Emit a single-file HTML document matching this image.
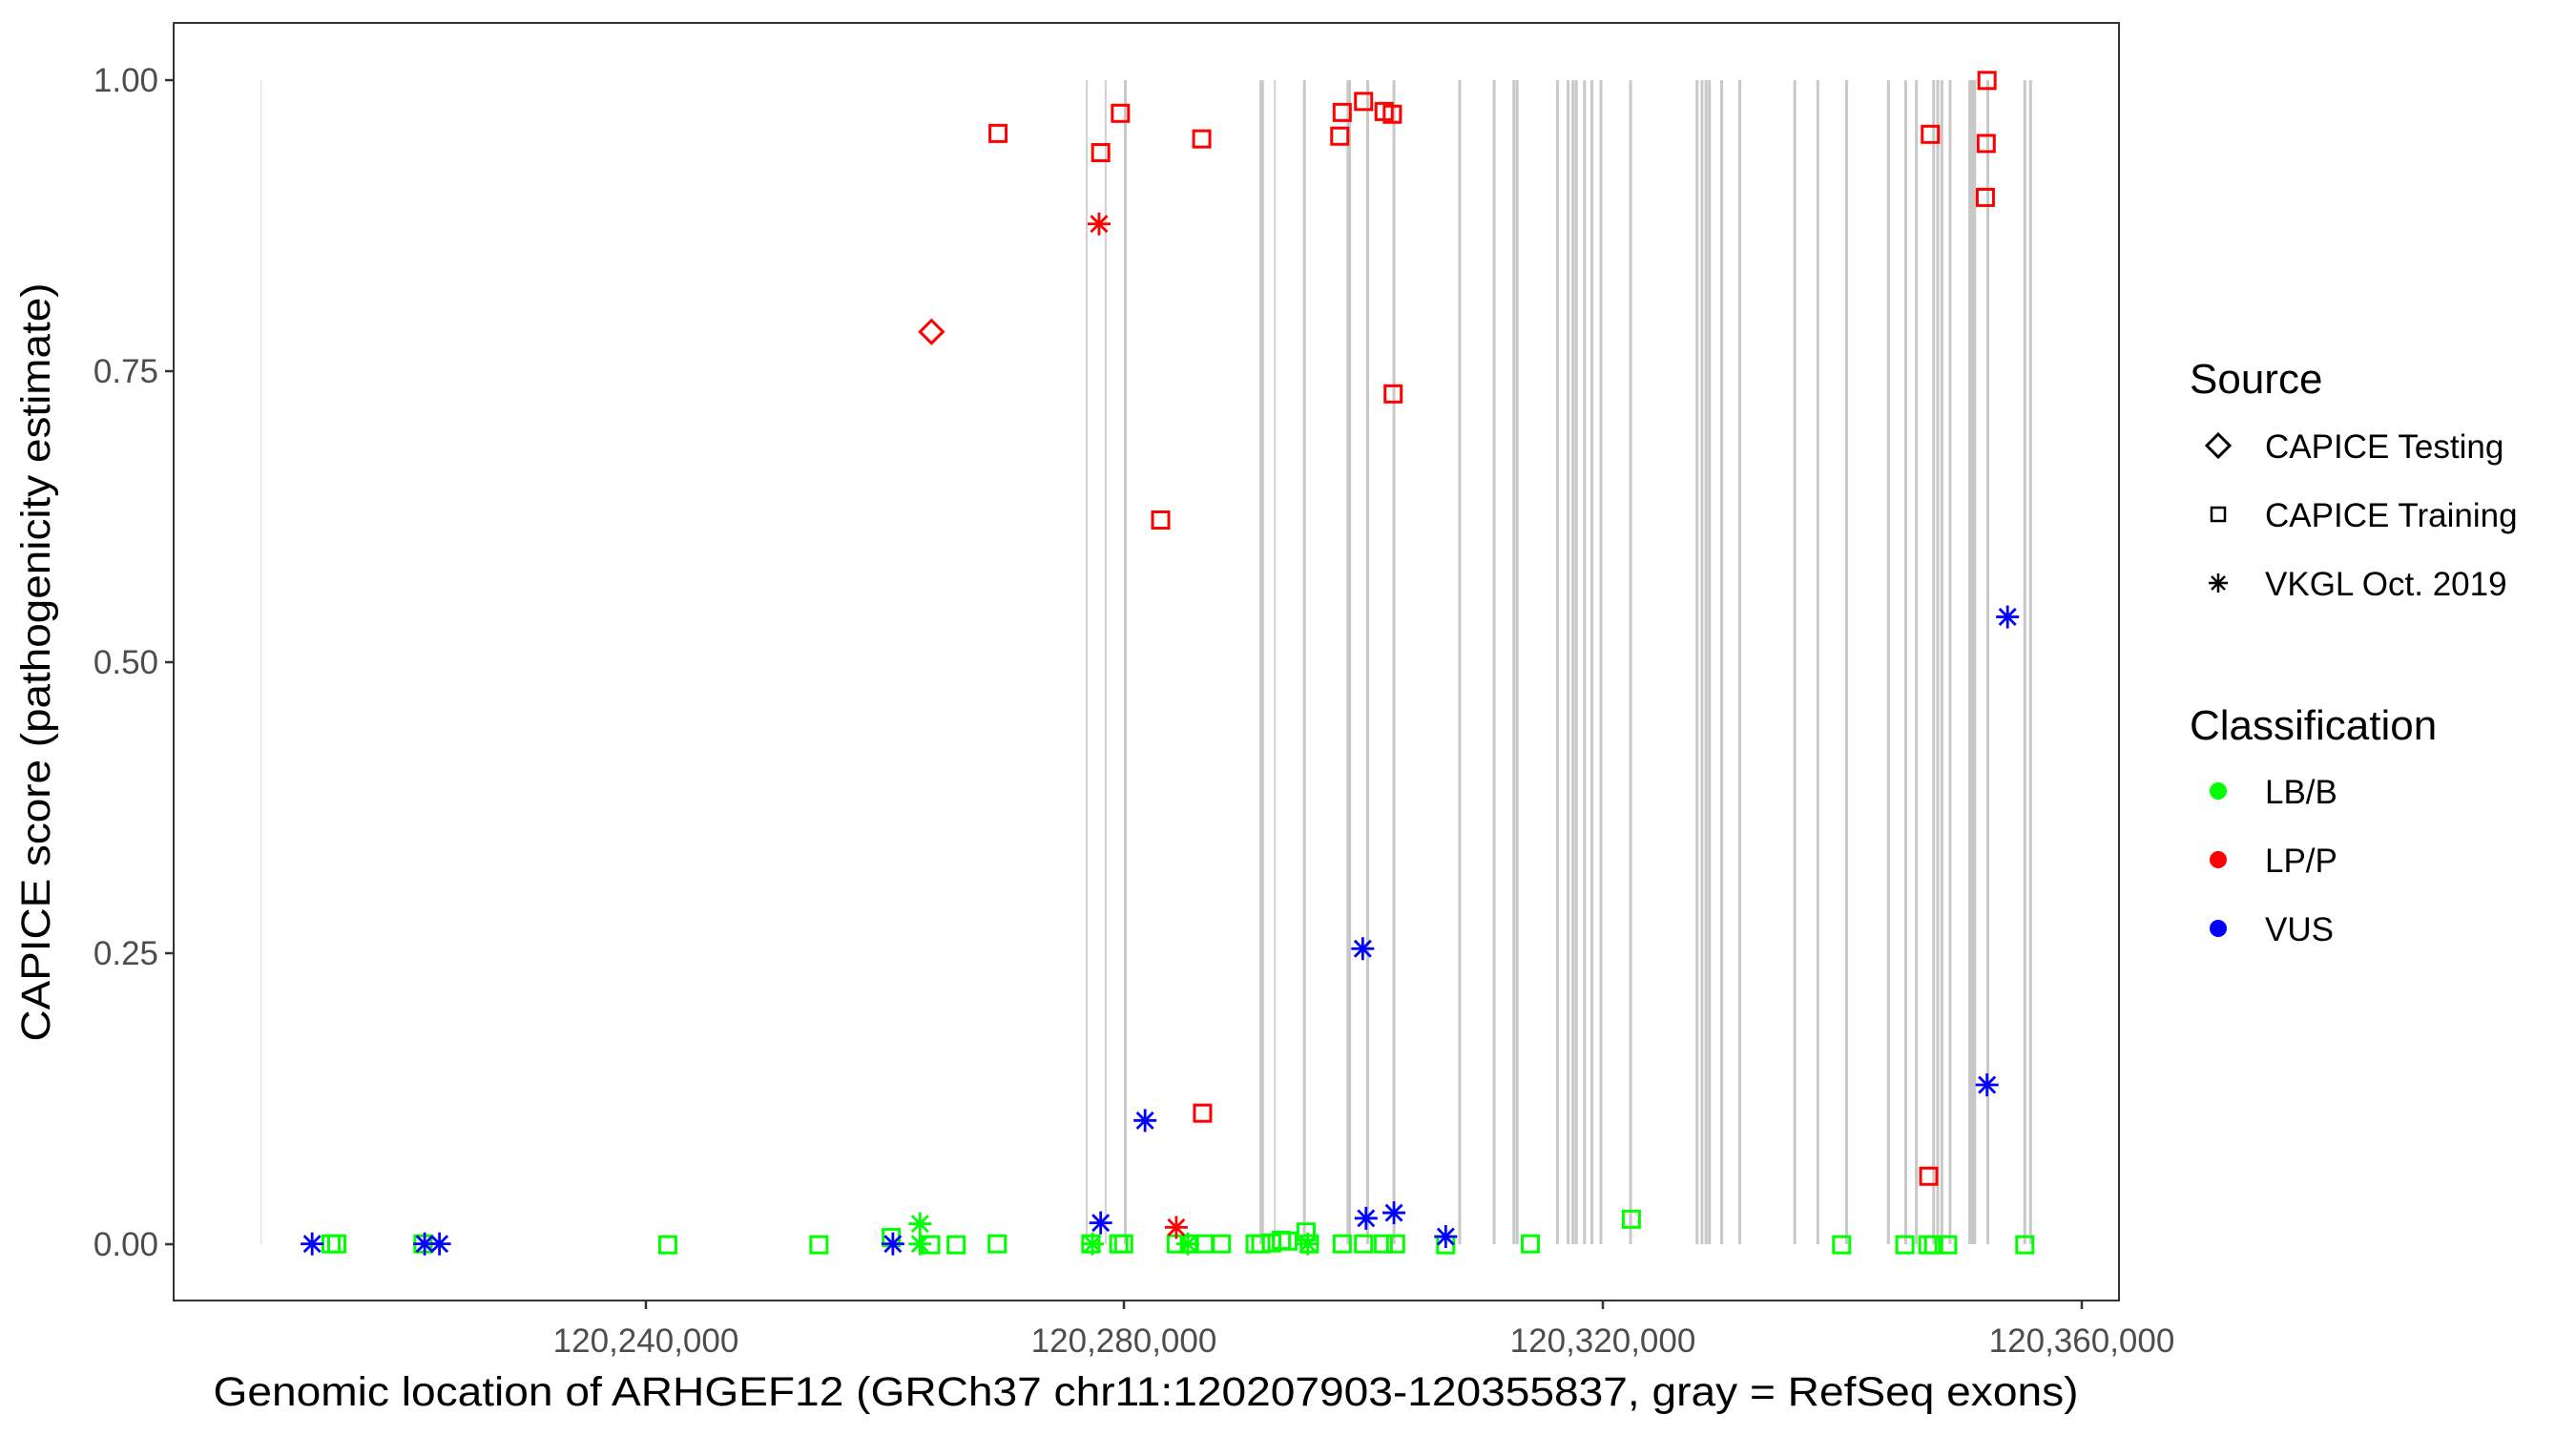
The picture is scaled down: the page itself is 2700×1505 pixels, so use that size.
<!DOCTYPE html>
<html><head><meta charset="utf-8"><style>
html,body{margin:0;padding:0;background:#fff;}
svg text{font-family:"Liberation Sans",Arial,sans-serif;}
</style></head><body>
<svg id="s" width="2700" height="1500" viewBox="0 0 2700 1500" xmlns="http://www.w3.org/2000/svg">
<rect width="2700" height="1500" fill="#fff"/>
<g id="ex"></g>
<g id="pts"></g>
<rect x="182" y="24" width="2039" height="1339" fill="none" stroke="#333" stroke-width="2"/>
<g stroke="#333" stroke-width="2.5">
<line x1="173" x2="182" y1="84" y2="84"/><line x1="173" x2="182" y1="389" y2="389"/><line x1="173" x2="182" y1="694" y2="694"/><line x1="173" x2="182" y1="999" y2="999"/><line x1="173" x2="182" y1="1304" y2="1304"/>
<line x1="677" x2="677" y1="1363" y2="1372"/><line x1="1178" x2="1178" y1="1363" y2="1372"/><line x1="1680" x2="1680" y1="1363" y2="1372"/><line x1="2182" x2="2182" y1="1363" y2="1372"/>
</g>
<g font-size="35" fill="#4d4d4d" text-anchor="end">
<text x="166" y="96">1.00</text><text x="166" y="401">0.75</text><text x="166" y="706">0.50</text><text x="166" y="1011">0.25</text><text x="166" y="1316">0.00</text>
</g>
<g font-size="35" fill="#4d4d4d" text-anchor="middle">
<text x="677" y="1417">120,240,000</text><text x="1178" y="1417">120,280,000</text><text x="1680" y="1417">120,320,000</text><text x="2182" y="1417">120,360,000</text>
</g>
<text x="1201" y="1473" font-size="43" text-anchor="middle" textLength="1955" lengthAdjust="spacingAndGlyphs">Genomic location of ARHGEF12 (GRCh37 chr11:120207903-120355837, gray = RefSeq exons)</text>
<text transform="translate(52,694) rotate(-90)" font-size="43" text-anchor="middle" textLength="795" lengthAdjust="spacingAndGlyphs">CAPICE score (pathogenicity estimate)</text>
<g font-size="44"><text x="2295" y="412">Source</text><text x="2295" y="775">Classification</text></g>
<g font-size="35">
<text x="2374" y="480">CAPICE Testing</text><text x="2374" y="552">CAPICE Training</text><text x="2374" y="624">VKGL Oct. 2019</text>
<text x="2374" y="842">LB/B</text><text x="2374" y="914">LP/P</text><text x="2374" y="986">VUS</text>
</g>
<g id="leg"></g>
</svg>
<script>
var NS="http://www.w3.org/2000/svg";
function el(p,t,a){var e=document.createElementNS(NS,t);for(var k in a)e.setAttribute(k,a[k]);p.appendChild(e);return e;}
var ex=document.getElementById('ex'),pts=document.getElementById('pts'),leg=document.getElementById('leg');
var fx=1.1615,fy=1.044;
function X1(z){return z/fx;} function X2(z){return 1350+z/fx;} function Y(z){return z/fy;}
[[318,1.2,'#ddd'],[1323,2,'#d0d0d0'],[1346,2,'#d0d0d0'],[1370,3,'#c8c8c8'],[1535,3,'#c8c8c8'],[1537,3,'#c8c8c8'],[1552,2,'#d0d0d0']].forEach(function(l){var x=X1(l[0]);el(ex,'line',{x1:x,x2:x,y1:84,y2:1304,stroke:l[2],'stroke-width':l[1]});});
[20,73,75,97,129,209,251,275,279,328,341,347,351,361,370,381,417,498,504,509,513,528,550,617,645,680,731,752,765,786,791,796,806,830,833,836,852,897,904].forEach(function(z){var x=X2(z);el(ex,'line',{x1:x,x2:x,y1:84,y2:1304,stroke:'#c8c8c8','stroke-width':3});});
var R='#ff0000',G='#00ff00',B='#0000ff';
function sq(x,y,c){el(pts,'rect',{x:x-8.5,y:y-8.5,width:17,height:17,fill:'none',stroke:c,'stroke-width':3});}
function st(x,y,c,g){g=g||pts;var r=12,d=8.5;[[0,-r,0,r],[-r,0,r,0],[-d,-d,d,d],[-d,d,d,-d]].forEach(function(a){el(g,'line',{x1:x+a[0],y1:y+a[1],x2:x+a[2],y2:y+a[3],stroke:c,'stroke-width':2.8});});}
function di(x,y,c,g){g=g||pts;el(g,'polygon',{points:(x)+','+(y-12)+' '+(x+12)+','+y+' '+x+','+(y+12)+' '+(x-12)+','+y,fill:'none',stroke:c,'stroke-width':3});}
[[403,1361],[410,1361],[515,1361],[813,1362],[997,1362],[1085,1354],[1133,1362],[1164,1362],[1214,1361],[1328,1361],[1362,1361],[1368,1361],[1432,1361],[1448,1361],[1466,1361],[1487,1361],[1528,1361],[1535,1361],[1548,1360],[1560,1357]].forEach(function(p){sq(X1(p[0]),Y(p[1]),G);});
[[0,1358],[22,1348],[26,1361],[66,1361],[92,1361],[116,1361],[131,1361],[192,1362],[295,1361],[418,1334],[674,1362],[751,1362],[779,1362],[786,1362],[803,1362],[897,1362]].forEach(function(p){sq(X2(p[0]),Y(p[1]),G);});
[[1120,1339],[1120,1361],[1330,1361],[1446,1361]].forEach(function(p){st(X1(p[0]),Y(p[1]),G);});
st(X2(24),Y(1361),G);
[[1215,146],[1340,167],[1364,124],[1463,152],[1413,569],[1464,1218]].forEach(function(p){sq(X1(p[0]),Y(p[1]),R);});
[[63,149],[66,123],[92,111],[117,122],[127,125],[128,431],[851,88],[782,147],[850,157],[849,216],[780,1287]].forEach(function(p){sq(X2(p[0]),Y(p[1]),R);});
di(X1(1134),Y(363),R);
st(X1(1338),Y(245),R);st(X1(1432),Y(1343),R);
[[380,1361],[517,1361],[535,1361],[1087,1361],[1340,1338],[1394,1226]].forEach(function(p){st(X1(p[0]),Y(p[1]),B);});
[[91,1038],[95,1333],[129,1327],[192,1353],[876,675],[851,1187]].forEach(function(p){st(X2(p[0]),Y(p[1]),B);});
di(2325,467,'#000',leg);
el(leg,'rect',{x:2318,y:532,width:14,height:14,fill:'none',stroke:'#000','stroke-width':2.5});
(function(){var x=2325,y=611,r=10,d=7;[[0,-r,0,r],[-r,0,r,0],[-d,-d,d,d],[-d,d,d,-d]].forEach(function(a){el(leg,'line',{x1:x+a[0],y1:y+a[1],x2:x+a[2],y2:y+a[3],stroke:'#000','stroke-width':2.5});});})();
el(leg,'circle',{cx:2325,cy:829,r:9,fill:G});
el(leg,'circle',{cx:2325,cy:901,r:9,fill:R});
el(leg,'circle',{cx:2325,cy:973,r:9,fill:B});
</script>
</body></html>
